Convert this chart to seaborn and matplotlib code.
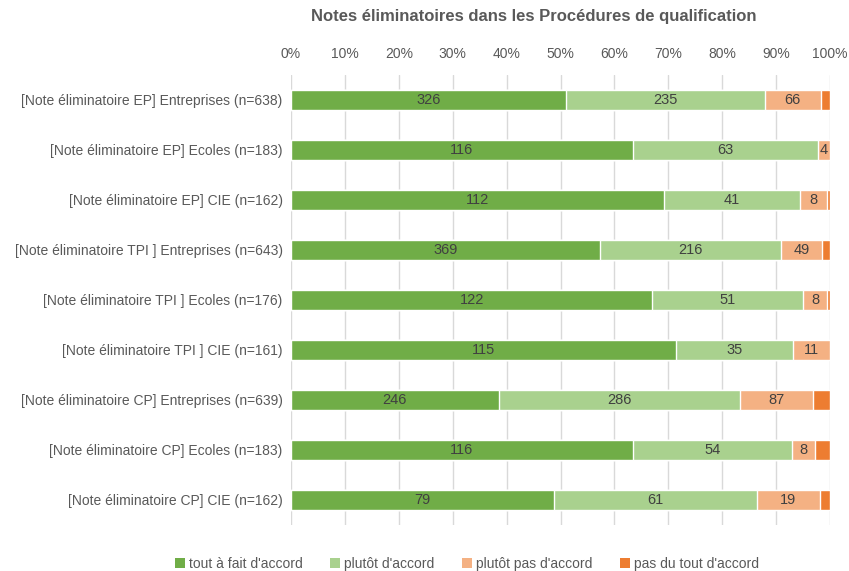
import numpy as np
import pandas as pd
import matplotlib.pyplot as plt
import seaborn as sns
from matplotlib.patches import Patch

# Data
categories = [
    "[Note éliminatoire EP] Entreprises (n=638)",
    "[Note éliminatoire EP] Ecoles (n=183)",
    "[Note éliminatoire EP] CIE (n=162)",
    "[Note éliminatoire TPI ] Entreprises (n=643)",
    "[Note éliminatoire TPI ] Ecoles (n=176)",
    "[Note éliminatoire TPI ] CIE (n=161)",
    "[Note éliminatoire CP] Entreprises (n=639)",
    "[Note éliminatoire CP] Ecoles (n=183)",
    "[Note éliminatoire CP] CIE (n=162)",
]
series_names = ["tout à fait d'accord", "plutôt d'accord", "plutôt pas d'accord", "pas du tout d'accord"]
tout_a_fait = [326, 116, 112, 369, 122, 115, 246, 116, 79]
plutot = [235, 63, 41, 216, 51, 35, 286, 54, 61]
plutot_pas = [66, 4, 8, 49, 8, 11, 87, 8, 19]
pas_du_tout = [11, 0, 1, 9, 1, 0, 20, 5, 3]
colors = ["#70AD47", "#A9D18E", "#F4B183", "#ED7D31"]

sns.set_theme(style="white")
plt.rcParams['font.family'] = ['Liberation Sans', 'DejaVu Sans']

counts = np.array([tout_a_fait, plutot, plutot_pas, pas_du_tout], dtype=float)
pct = counts / counts.sum(axis=0) * 100
cum = pct.cumsum(axis=0)

fig = plt.figure(figsize=(8.49, 5.71), dpi=100)
ax = fig.add_axes([291 / 849, 1 - 525 / 571, (830 - 291) / 849, 450 / 571])

# stacked bars: draw cumulative totals from the last series back to the first
for i in range(3, -1, -1):
    df = pd.DataFrame({"cat": categories, "val": cum[i]})
    sns.barplot(data=df, x="val", y="cat", orient="h", color=colors[i],
                width=0.4, saturation=1, ax=ax, zorder=2)

# value labels for the first three series
for i in range(3):
    for j in range(len(categories)):
        if counts[i, j] > 0:
            x = cum[i, j] - pct[i, j] / 2
            ax.text(x, j, f"{int(counts[i, j])}", ha="center", va="center",
                    fontsize=10.5, color="#404040", zorder=3)

ax.set_xlim(0, 100)
ax.set_ylim(8.5, -0.5)
ax.set_xticks(np.arange(0, 101, 10))
ax.set_xticklabels([f"{v}%" for v in range(0, 101, 10)])
ax.xaxis.tick_top()
ax.tick_params(axis="x", length=0, pad=10, labelsize=10, colors="#595959")
ax.tick_params(axis="y", length=0, pad=6, labelsize=10, colors="#595959")
ax.grid(axis="x", color="#D9D9D9", linewidth=1, zorder=0)
ax.set_axisbelow(True)
ax.set_xlabel("")
ax.set_ylabel("")
for s in ax.spines.values():
    s.set_visible(False)

fig.text(534 / 849, 1 - 17 / 571, "Notes éliminatoires dans les Procédures de qualification",
         ha="center", va="center", fontsize=12, fontweight="bold", color="#595959")

handles = [Patch(facecolor=c, edgecolor="none") for c in colors]
fig.legend(handles, series_names, loc="center", bbox_to_anchor=(467 / 849, 1 - 564 / 571),
           ncol=4, frameon=False, fontsize=10, handlelength=0.7, handleheight=0.7,
           handletextpad=0.3, columnspacing=2.0, labelcolor="#595959")

fig.savefig("out.png", dpi=100)
